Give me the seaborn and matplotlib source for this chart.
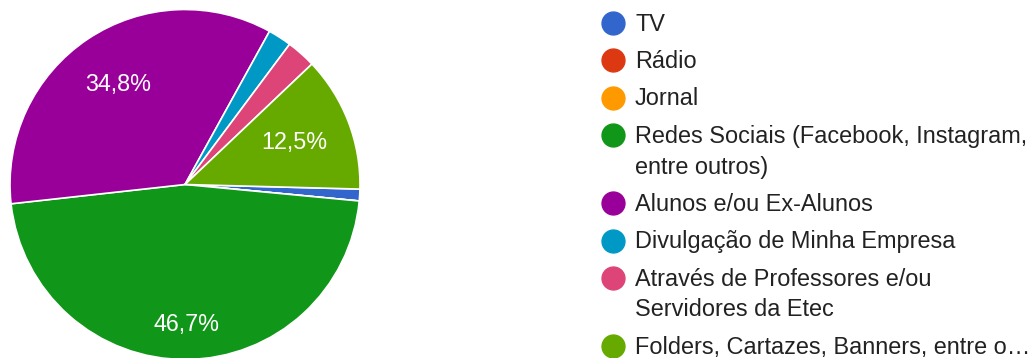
import matplotlib
matplotlib.use("Agg")
import matplotlib.pyplot as plt
from matplotlib.lines import Line2D
import numpy as np
import seaborn as sns

# Response counts per channel
categories = [
    "TV",
    "Rádio",
    "Jornal",
    "Redes Sociais (Facebook, Instagram,\nentre outros)",
    "Alunos e/ou Ex-Alunos",
    "Divulgação de Minha Empresa",
    "Através de Professores e/ou\nServidores da Etec",
    "Folders, Cartazes, Banners, entre o…",
]
counts = [2, 0, 0, 86, 64, 4, 5, 23]
colors = ["#3366cc", "#dc3912", "#ff9900", "#109618",
          "#990099", "#0099c6", "#dd4477", "#66aa00"]

sns.set_theme(style="white")
plt.rcParams["font.family"] = ["Liberation Sans", "DejaVu Sans"]
palette = sns.color_palette(colors)

W, H = 1029, 358
fig = plt.figure(figsize=(W / 100, H / 100), dpi=100)
fig.patch.set_facecolor("white")

# Pie area: centre (185, 184.5) px, radius 175 px
cx, cy, r = 185, 184.5, 175
ax = fig.add_axes([(cx - r) / W, (H - cy - r) / H, 2 * r / W, 2 * r / H])
ax.axis("off")

total = sum(counts)
wedges, _ = ax.pie(
    counts,
    colors=palette,
    startangle=-1.5,
    counterclock=False,
    radius=1,
    wedgeprops=dict(edgecolor="white", linewidth=1.2),
)
ax.set_xlim(-1, 1)
ax.set_ylim(-1, 1)
ax.set_aspect("equal")

# Percent labels inside the larger slices
label_dist = {3: 0.80, 4: 0.69, 7: 0.67}
for i, (w, c) in enumerate(zip(wedges, counts)):
    if c == 0 or c / total < 0.05:
        continue
    ang = np.deg2rad((w.theta1 + w.theta2) / 2)
    d = label_dist.get(i, 0.68)
    pct = f"{100 * c / total:.1f}".replace(".", ",") + "%"
    ax.text(d * np.cos(ang), d * np.sin(ang), pct, color="white",
            fontsize=16.8, ha="center", va="center")

# Legend drawn beside the pie
fs = 16.9
marker_x, text_x = 613, 635
y = 23
for lab, col in zip(categories, palette):
    fig.lines.append(Line2D(
        [marker_x / W], [1 - y / H], transform=fig.transFigure,
        marker="o", markersize=16.5, color=col, linestyle="none"))
    for k, line in enumerate(lab.split("\n")):
        yy = y + 31 * k
        fig.text(text_x / W, 1 - (yy + 7.7) / H, line, fontsize=fs,
                 color="#222222", ha="left", va="baseline")
    y += 37.3 + 31 * (lab.count("\n"))

fig.savefig("out.png", dpi=100, facecolor="white")
